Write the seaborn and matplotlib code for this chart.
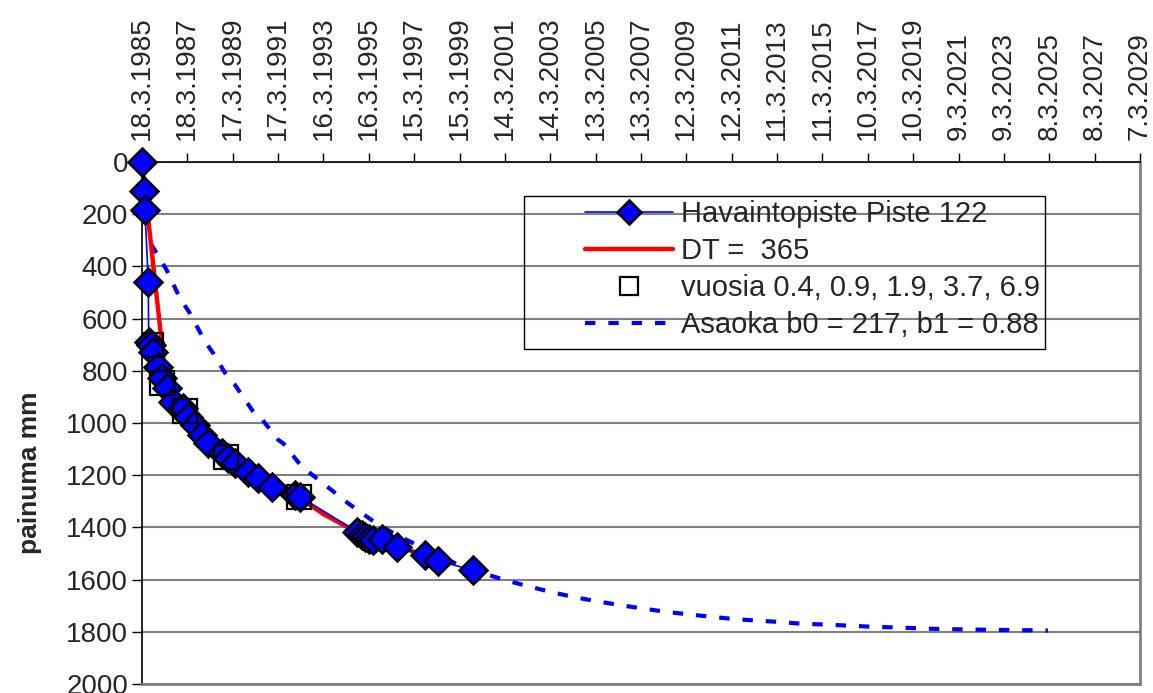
import numpy as np
import pandas as pd
import matplotlib
matplotlib.use('Agg')
import matplotlib.pyplot as plt
import matplotlib.dates as mdates
import matplotlib.ticker as mticker
from matplotlib.patches import Rectangle
import seaborn as sns

sns.set_style('white')
plt.rcParams['font.family'] = ['Liberation Sans', 'DejaVu Sans']

# --- data ---
start = np.datetime64('1985-03-18')

# Havaintopiste Piste 122 (days from 18.3.1985, settlement mm)
obs_days = [0, 37, 48, 101, 108, 146, 182, 262, 317, 397, 504, 665, 745, 853, 961,
            1067, 1282, 1389, 1496, 1710, 1871, 2087, 2462, 2542, 3455, 3535, 3588,
            3657, 3722, 3857, 4098, 4553, 4767, 5321]
obs_mm = [0, 110, 184, 461, 688, 701, 727, 784, 829, 867, 918, 944, 976, 1008, 1046,
          1078, 1116, 1135, 1154, 1186, 1212, 1244, 1276, 1282, 1416, 1429, 1438,
          1445, 1448, 1446, 1476, 1506, 1529, 1563]

# DT = 365 (yearly values)
dt_years = list(range(14))
dt_mm = [0, 795, 970, 1075, 1150, 1205, 1250, 1290, 1349, 1396, 1440, 1465, 1494, 1528]

# vuosia 0.4, 0.9, 1.9, 3.7, 6.9
sq_years = [0.4, 0.9, 1.9, 3.7, 6.9]
sq_mm = [701, 846, 954, 1130, 1283]

# Asaoka b0 = 217, b1 = 0.88
asa_days = [145, 397, 611, 772, 1014, 1147, 1389, 1496, 1791, 1899, 2193, 2273, 2570,
            2945, 3319, 3696, 4043, 4420, 4795, 5149, 5492, 5871, 6241, 6603, 6973,
            7343, 7699, 8063, 8420, 8784, 9147, 9516, 9886, 10243, 10607, 10964,
            11332, 11689, 12059, 12430, 12780, 13519, 14578]
asa_mm = [314, 414, 522, 580, 688, 733, 829, 854, 957, 976, 1065, 1078, 1167,
          1237, 1308, 1372, 1422, 1467, 1513, 1548, 1576, 1604, 1627, 1649, 1668,
          1684, 1698, 1711, 1723, 1733, 1742, 1751, 1757, 1762, 1769, 1772,
          1776, 1780, 1783, 1786, 1789, 1792, 1795]

y_ticks = list(range(0, 2001, 200))
tick_step = 730   # days between date labels
n_ticks = 23

labels = ['Havaintopiste Piste 122', 'DT =  365',
          'vuosia 0.4, 0.9, 1.9, 3.7, 6.9', 'Asaoka b0 = 217, b1 = 0.88']


def to_date(days):
    return start + np.array(np.round(days), dtype='timedelta64[D]')


obs = pd.DataFrame({'pvm': to_date(obs_days), 'painuma': obs_mm})
dt = pd.DataFrame({'pvm': to_date(np.array(dt_years) * 365), 'painuma': dt_mm})
sq = pd.DataFrame({'pvm': to_date(np.array(sq_years) * 365.25), 'painuma': sq_mm})
asa = pd.DataFrame({'pvm': to_date(asa_days), 'painuma': asa_mm})

fig = plt.figure(figsize=(11.53, 6.93), dpi=100)
ax = fig.add_axes([142 / 1153, 9 / 693, 998 / 1153, 522 / 693])

blue = '#0000FF'
sns.lineplot(data=obs, x='pvm', y='painuma', ax=ax, color=blue, lw=1.2,
             marker='D', markersize=14, mec='black', mew=1.8,
             sort=False, estimator=None, label=labels[0], clip_on=False)
sns.lineplot(data=dt, x='pvm', y='painuma', ax=ax, color='#FF0000', lw=3.2,
             sort=False, estimator=None, label=labels[1])
sns.lineplot(data=sq, x='pvm', y='painuma', ax=ax, color='black', ls='none',
             marker='s', markersize=17, mfc='none', mec='black', mew=1.6,
             sort=False, estimator=None, label=labels[2])
sns.lineplot(data=asa, x='pvm', y='painuma', ax=ax, color=blue, lw=3,
             dashes=False, sort=False, estimator=None, label=labels[3])
obs_line, dt_line, sq_line, asa_line = ax.lines[:4]
obs_line.set_zorder(4)
dt_line.set_zorder(3)
sq_line.set_zorder(6)
asa_line.set_zorder(2)
asa_line.set_linestyle((0, (2.5, 3.1)))
asa_line.set_dash_capstyle('butt')

# axes, ticks
x_ticks = [to_date(i * tick_step) for i in range(n_ticks)]
ax.set_xlim(mdates.date2num(x_ticks[0]), mdates.date2num(x_ticks[-1]))
ax.set_xticks([mdates.date2num(d) for d in x_ticks])


def fmt_date(v, pos):
    d = mdates.num2date(v)
    return f'{d.day}.{d.month}.{d.year}'


ax.xaxis.set_major_formatter(mticker.FuncFormatter(fmt_date))
ax.xaxis.tick_top()
ax.tick_params(axis='x', top=True, bottom=False, labeltop=True, labelbottom=False,
               direction='out', length=6.5, width=1, pad=9, labelsize=20,
               labelrotation=90, color='black')
ax.set_ylim(2000, 0)
ax.set_yticks(y_ticks)
ax.tick_params(axis='y', left=True, direction='out', length=7, width=1, pad=3,
               labelsize=20, color='black')
ax.set_xlabel('')
ax.set_ylabel('painuma mm', fontsize=19, fontweight='bold')
ax.yaxis.set_label_coords((42 - 142) / 998, 1 - (473 - 162) / 522)

ax.grid(axis='y', color='#808080', lw=1.5)
ax.grid(axis='x', visible=False)
for side in ['left', 'top']:
    ax.spines[side].set_color('black')
    ax.spines[side].set_linewidth(1.2)
for side in ['right', 'bottom']:
    ax.spines[side].set_color('#808080')
    ax.spines[side].set_linewidth(2)

# legend with a plain box
handles, _ = ax.get_legend_handles_labels()
leg = ax.legend(handles, labels, loc='upper left',
                bbox_to_anchor=((585 - 142) / 998, 1 - (200 - 162) / 522),
                borderaxespad=0, borderpad=0, frameon=False, fontsize=21,
                handlelength=3.0, handletextpad=0.28, labelspacing=0.31)
leg.set_zorder(7)
leg.legend_handles[0].set_markersize(12)
leg.legend_handles[2].set_markersize(13)
ax.add_patch(Rectangle(((524 - 142) / 998, 1 - (349 - 162) / 522),
                       (1045 - 524) / 998, (349 - 196) / 522,
                       transform=ax.transAxes, fill=False, ec='black', lw=1,
                       zorder=7))

fig.savefig('out.png', dpi=100)
